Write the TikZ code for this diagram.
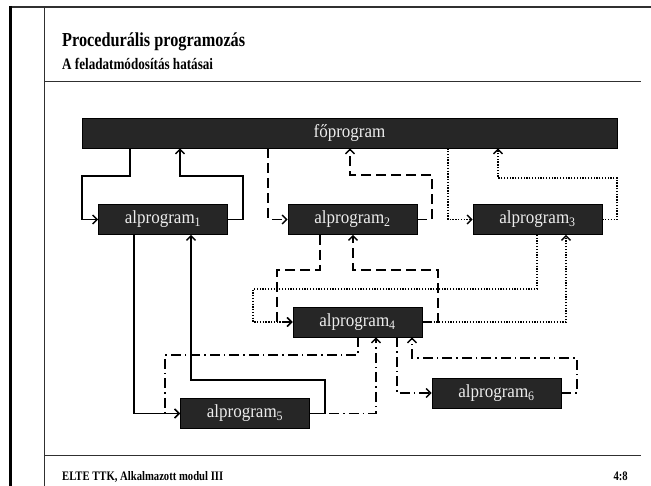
\documentclass[tikz,border=0pt]{standalone}
\usepackage{fontspec}
\setmainfont{Liberation Serif}
\newfontfamily\hdrfont{Liberation Serif}[FakeStretch=0.82]
\newfontfamily\dgmfont{Liberation Serif}[FakeStretch=0.92]
\usetikzlibrary{arrows.meta}
\definecolor{boxfill}{HTML}{262626}
\definecolor{boxtext}{HTML}{EDEDED}
\definecolor{frameline}{HTML}{303030}
\begin{document}
\begin{tikzpicture}[x=1pt,y=-1pt,
  box/.style={draw=black, line width=0.6pt, fill=boxfill, text=boxtext, minimum width=129pt, minimum height=30pt, inner sep=0pt, font=\dgmfont\fontsize{18.5}{18.5}\selectfont},
  conn/.style={line width=1.4pt, black, -{Straight Barb[length=4.5pt,width=9pt]}},
  solidc/.style={conn},
  dashedc/.style={conn, dash pattern=on 10pt off 5pt},
  dottedc/.style={conn, dash pattern=on 1.3pt off 1.5pt},
  dashdotc/.style={conn, dash pattern=on 10pt off 4pt on 1.5pt off 4pt},
  hdr/.style={anchor=base west, inner sep=0pt}
]
\useasboundingbox (0,0) rectangle (651,486);
% frame
\draw[frameline, line width=2pt] (9,7) -- (651,7);
\draw[black, line width=3pt] (10,6) -- (10,486);
\draw[frameline, line width=1pt] (44,7) -- (44,486);
\draw[frameline, line width=1pt] (44,82) -- (641,82);
\draw[frameline, line width=1pt] (44,455) -- (641,455);
% texts
\node[hdr, font=\hdrfont\bfseries\fontsize{19.8}{19.8}\selectfont] (title) at (62,47) {Procedurális programozás};
\node[hdr, font=\hdrfont\bfseries\fontsize{16}{16}\selectfont] (subtitle) at (62,70) {A feladatmódosítás hatásai};
\node[hdr, font=\hdrfont\bfseries\fontsize{13}{13}\selectfont] (footer) at (62,480) {ELTE TTK, Alkalmazott modul III};
\node[anchor=base east, inner sep=0pt, font=\hdrfont\bfseries\fontsize{13}{13}\selectfont] (pagenum) at (628,480) {4:8};
% boxes
\node[box, minimum width=535pt] (main) at (349.5,133) {főprogram};
\node[box] (a1) at (163,219.5) {alprogram\textsubscript{1}};
\node[box] (a2) at (352.5,219.5) {alprogram\textsubscript{2}};
\node[box] (a3) at (537.5,219.5) {alprogram\textsubscript{3}};
\node[box] (a4) at (357.5,322) {alprogram\textsubscript{4}};
\node[box] (a5) at (245,413.5) {alprogram\textsubscript{5}};
\node[box] (a6) at (496.5,393) {alprogram\textsubscript{6}};
% solid
\draw[solidc] (130,0 |- main.south) |- (82,176) |- (a1.west);
\draw[solidc] (a1.east) -| (243,176) -| (180,0 |- main.south);
\draw[solidc] (134,0 |- a1.south) |- (a5.west);
\draw[solidc] (a5.east) -| (325,380) -| (191,0 |- a1.south);
% dashed
\draw[dashedc] (268,0 |- main.south) |- (a2.west);
\draw[dashedc] (a2.east) -| (432,175) -| (350,0 |- main.south);
\draw[dashedc] (320,0 |- a2.south) |- (277,270) |- (a4.west);
\draw[dashedc] (a4.east) -| (438,270) -| (353,0 |- a2.south);
% dotted
\draw[dottedc] (448,0 |- main.south) |- (a3.west);
\draw[dottedc] (a3.east) -| (617,178) -| (498,0 |- main.south);
\draw[dottedc] (537,0 |- a3.south) |- (253,289) |- (a4.west);
\draw[dottedc] (a4.east) -| (566,0 |- a3.south);
% dash-dot
\draw[dashdotc] (358,0 |- a4.south) |- (165,355) |- (a5.west);
\draw[dashdotc] (a5.east) -| (376,0 |- a4.south);
\draw[dashdotc] (397,0 |- a4.south) |- (a6.west);
\draw[dashdotc] (a6.east) -| (577,358) -| (412,0 |- a4.south);
\end{tikzpicture}
\end{document}
